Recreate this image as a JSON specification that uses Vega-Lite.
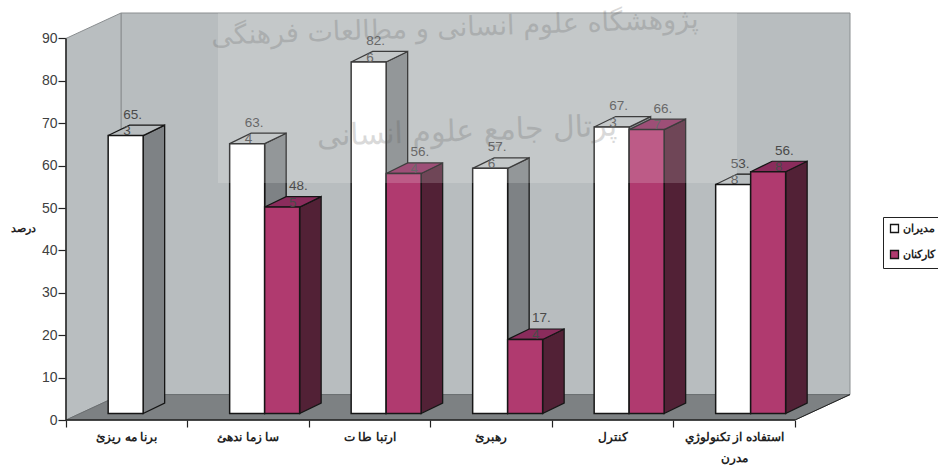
{
"$schema":"https://vega.github.io/schema/vega-lite/v6.json",
"width":784,"height":407,"autosize":"none",
"padding":{"left":66,"top":13,"right":88,"bottom":45},
"background":"#ffffff",
"config":{"view":{"stroke":null},"font":"Liberation Sans","axis":{"grid":false,"domain":false}},
"datasets":{
"bars":[
{"category":"برنا مه ريزئ","series":"مديران","value":65.3},
{"category":"سا زما ندهئ","series":"مديران","value":63.4},
{"category":"سا زما ندهئ","series":"كاركنان","value":48.5},
{"category":"ارتبا طا ت","series":"مديران","value":82.6},
{"category":"ارتبا طا ت","series":"كاركنان","value":56.4},
{"category":"رهبرئ","series":"مديران","value":57.6},
{"category":"رهبرئ","series":"كاركنان","value":17.4},
{"category":"كنترل","series":"مديران","value":67.3},
{"category":"كنترل","series":"كاركنان","value":66.7},
{"category":"استفاده از تكنولوژي مدرن","series":"مديران","value":53.8},
{"category":"استفاده از تكنولوژي مدرن","series":"كاركنان","value":56.8}
],
"cats":[{"category":"برنا مه ريزئ"},{"category":"سا زما ندهئ"},{"category":"ارتبا طا ت"},{"category":"رهبرئ"},{"category":"كنترل"},{"category":"استفاده از تكنولوژي مدرن"}],
"one":[{"note":"frame"}],
"two":[{"corner":0},{"corner":1}],
"four":[{"corner":0},{"corner":1},{"corner":2},{"corner":3}]
},
"layer":[
{"data":{"name":"one"},"mark":{"type":"rect","fill":"#b8bdbf","stroke":"#8a8e90","strokeWidth":1},
 "encoding":{
  "x":{"datum":0.4527,"type":"quantitative","scale":{"domain":[0,6.4527]},"axis":{"title":null,"values":[0,1,2,3,4,5,6],"labels":false,"tickSize":7,"tickColor":"#222222","tickWidth":1.2}},
  "x2":{"datum":6.4527},
  "y":{"datum":6,"type":"quantitative","scale":{"domain":[0,96]},"axis":{"title":"درصد","titleAngle":0,"titleX":-43,"titleY":215,"titleAlign":"center","titleBaseline":"middle","titleFont":"Liberation Sans","titleFontSize":11,"titleFontWeight":"bold","titleColor":"#222222","values":[0,10,20,30,40,50,60,70,80,90],"tickSize":8,"tickColor":"#222222","tickWidth":1.2,"labelFontSize":14,"labelColor":"#404040","labelPadding":1,"labelFont":"Liberation Sans"}},
  "y2":{"datum":96}}},
{"data":{"name":"two"},"transform":[{"calculate":"datum.corner*0.4527","as":"X"},{"calculate":"datum.corner*6","as":"Y"},{"calculate":"datum.corner*6+90","as":"Y2"}],
 "mark":{"type":"area","fill":"#b9bec0","stroke":"#8a8e90","strokeWidth":1},
 "encoding":{"x":{"field":"X","type":"quantitative","scale":{"domain":[0,6.4527]}},"y":{"field":"Y","type":"quantitative","scale":{"domain":[0,96]}},"y2":{"field":"Y2"}}},
{"data":{"name":"four"},"transform":[{"calculate":"[0,0.4527,6,6.4527][datum.corner]","as":"X"},{"calculate":"[0,0,0,6][datum.corner]","as":"Y"},{"calculate":"[0,6,6,6][datum.corner]","as":"Y2"}],
 "mark":{"type":"area","fill":"#7d8183","stroke":"#6a6e70","strokeWidth":1},
 "encoding":{"x":{"field":"X","type":"quantitative","scale":{"domain":[0,6.4527]}},"y":{"field":"Y","type":"quantitative","scale":{"domain":[0,96]}},"y2":{"field":"Y2"}}},
{"data":{"name":"one"},"mark":{"type":"rule","color":"#222222","strokeWidth":1.5},
 "encoding":{
  "x":{"datum":0,"type":"quantitative","scale":{"domain":[0,6.4527]}},
  "y":{"datum":0,"type":"quantitative","scale":{"domain":[0,96]}},
  "y2":{"datum":90}}},
{"data":{"name":"one"},"mark":{"type":"rule","color":"#222222","strokeWidth":1.5},
 "encoding":{"x":{"datum":0,"type":"quantitative","scale":{"domain":[0,6.4527]}},"x2":{"datum":6},"y":{"datum":0,"type":"quantitative","scale":{"domain":[0,96]}}}},
{"data":{"name":"two"},"transform":[{"calculate":"0.4527*datum.corner+6","as":"X"},{"calculate":"6*datum.corner","as":"Y"}],
 "mark":{"type":"line","color":"#222222","strokeWidth":1},
 "encoding":{"x":{"field":"X","type":"quantitative","scale":{"domain":[0,6.4527]}},"y":{"field":"Y","type":"quantitative","scale":{"domain":[0,96]}}}},
{"data":{"name":"bars"},
 "transform":[
  {"calculate":"indexof(['برنا مه ريزئ','سا زما ندهئ','ارتبا طا ت','رهبرئ','كنترل','استفاده از تكنولوژي مدرن'],datum.category)","as":"i"},
  {"calculate":"datum.series==='مديران'?0:1","as":"s"},
  {"calculate":"datum.i+0.347+datum.s*0.288","as":"x0"},
  {"calculate":"datum.x0+0.288","as":"x1"},
  {"calculate":"1.53","as":"base"},
  {"calculate":"1.53+datum.value*1.004","as":"T"},
  {"calculate":"datum.category+datum.series","as":"key"},
  {"calculate":"replace(format(datum.value,'.1f'),'.','.\\n')","as":"lab"},
  {"calculate":"datum.x0+(datum.s?0.2:0.125)","as":"lx"}
 ],
 "layer":[
 {"transform":[{"calculate":"[0,1]","as":"t"},{"flatten":["t"]},{"calculate":"datum.x1+datum.t*0.177","as":"X"},{"calculate":"datum.base+datum.t*2.47","as":"Y"},{"calculate":"datum.T+datum.t*2.47","as":"Y2"}],
  "mark":{"type":"area","stroke":"#161616","strokeWidth":1.3},
  "encoding":{"x":{"field":"X","type":"quantitative","scale":{"domain":[0,6.4527]}},"y":{"field":"Y","type":"quantitative","scale":{"domain":[0,96]}},"y2":{"field":"Y2"},"detail":{"field":"key"},
   "fill":{"condition":{"test":"datum.s===0","value":"#7e8285"},"value":"#522136"}}},
 {"transform":[{"calculate":"[0,1,2,3]","as":"c"},{"flatten":["c"]},{"calculate":"datum.x0+[0,0.177,0.288,0.465][datum.c]","as":"X"},{"calculate":"datum.T+(datum.c===3?2.47:0)","as":"Y"},{"calculate":"datum.T+(datum.c===0?0:2.47)","as":"Y2"}],
  "mark":{"type":"area","stroke":"#161616","strokeWidth":1.2},
  "encoding":{"x":{"field":"X","type":"quantitative","scale":{"domain":[0,6.4527]}},"y":{"field":"Y","type":"quantitative","scale":{"domain":[0,96]}},"y2":{"field":"Y2"},"detail":{"field":"key"},
   "fill":{"condition":{"test":"datum.s===0","value":"#b8bdbf"},"value":"#8a2c5c"}}},
 {"mark":{"type":"rect","stroke":"#161616","strokeWidth":1.5},
  "encoding":{"x":{"field":"x0","type":"quantitative","scale":{"domain":[0,6.4527]}},"x2":{"field":"x1"},"y":{"field":"base","type":"quantitative","scale":{"domain":[0,96]}},"y2":{"field":"T"},
   "fill":{"field":"series","type":"nominal","scale":{"domain":["مديران","كاركنان"],"range":["#ffffff","#b03a6f"]},
    "legend":{"title":null,"orient":"none","legendX":817,"legendY":204,"symbolType":"square","symbolSize":64,"symbolStrokeColor":"#161616","symbolStrokeWidth":1.3,"labelFont":"Liberation Sans","labelFontSize":11,"labelFontWeight":"bold","labelColor":"#222222","labelOffset":3,"rowPadding":11,"padding":6,"fillColor":"#ffffff","strokeColor":"#222222","values":["مديران","كاركنان"]}}}},
 {"mark":{"type":"text","align":"left","baseline":"top","dy":-28,"fontSize":13.5,"color":"#4a4a4a","lineBreak":"\n","lineHeight":16.7,"font":"Liberation Sans"},
  "encoding":{"x":{"field":"lx","type":"quantitative","scale":{"domain":[0,6.4527]}},"y":{"field":"T","type":"quantitative","scale":{"domain":[0,96]}},"text":{"field":"lab","type":"nominal"}}}
 ]},
{"data":{"name":"one"},"mark":{"type":"rect","fill":"#ffffff","opacity":0.17},
 "encoding":{"x":{"datum":1.251,"type":"quantitative","scale":{"domain":[0,6.4527]}},"x2":{"datum":5.523},"y":{"datum":55.9,"type":"quantitative","scale":{"domain":[0,96]}},"y2":{"datum":96}}},
{"data":{"name":"one"},"mark":{"type":"text","font":"DejaVu Sans","fontSize":27,"color":"#555555","opacity":0.22,"angle":-2},
 "encoding":{"x":{"datum":3.2,"type":"quantitative","scale":{"domain":[0,6.4527]}},"y":{"datum":92.4,"type":"quantitative","scale":{"domain":[0,96]}},"text":{"value":"پژوهشگاه علوم انسانی و مطالعات فرهنگی"}}},
{"data":{"name":"one"},"mark":{"type":"text","font":"DejaVu Sans","fontSize":30,"color":"#555555","opacity":0.22,"angle":-2},
 "encoding":{"x":{"datum":3.3,"type":"quantitative","scale":{"domain":[0,6.4527]}},"y":{"datum":68,"type":"quantitative","scale":{"domain":[0,96]}},"text":{"value":"پرتال جامع علوم انسانی"}}},
{"data":{"name":"cats"},
 "transform":[
  {"calculate":"indexof(['برنا مه ريزئ','سا زما ندهئ','ارتبا طا ت','رهبرئ','كنترل','استفاده از تكنولوژي مدرن'],datum.category)+0.5","as":"X"},
  {"calculate":"replace(datum.category,' مدرن','\\nمدرن')","as":"lab"}],
 "mark":{"type":"text","align":"center","baseline":"top","dy":12,"font":"Liberation Sans","fontSize":12,"fontWeight":"bold","color":"#222222","lineBreak":"\n","lineHeight":21},
 "encoding":{"x":{"field":"X","type":"quantitative","scale":{"domain":[0,6.4527]}},"y":{"datum":0,"type":"quantitative","scale":{"domain":[0,96]}},"text":{"field":"lab","type":"nominal"}}}
]
}
